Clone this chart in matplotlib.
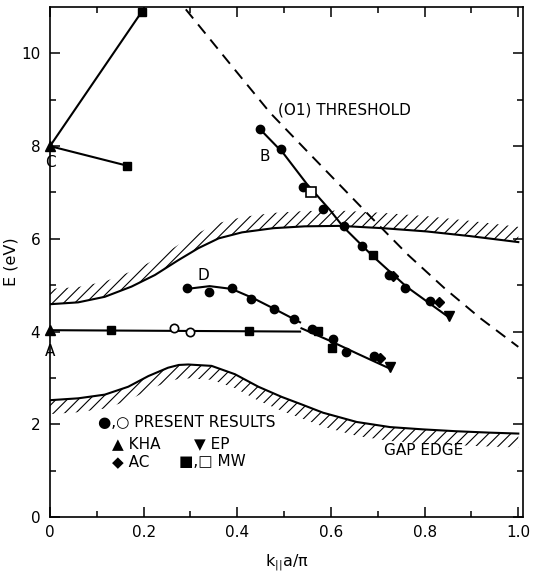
import matplotlib
matplotlib.use("Agg")
import matplotlib.pyplot as plt
import numpy as np

# ---- gap edge curves ----
upper_x = [0, 0.06, 0.117, 0.174, 0.224, 0.274, 0.317, 0.36, 0.41, 0.477, 0.544, 0.619, 0.711, 0.804, 0.896, 1.0]
upper_e = [4.59, 4.63, 4.75, 4.97, 5.22, 5.54, 5.80, 6.01, 6.14, 6.23, 6.27, 6.28, 6.23, 6.16, 6.06, 5.93]

lower_x = [0, 0.06, 0.117, 0.167, 0.21, 0.252, 0.275, 0.295, 0.345, 0.395, 0.445, 0.495, 0.537, 0.583, 0.655, 0.726, 0.797, 0.868, 0.939, 1.0]
lower_e = [2.52, 2.56, 2.64, 2.81, 3.04, 3.22, 3.28, 3.29, 3.26, 3.08, 2.81, 2.59, 2.43, 2.25, 2.05, 1.94, 1.89, 1.85, 1.82, 1.80]

# (01) threshold (dashed)
thr_x = [0.29, 0.38, 0.47, 0.55, 0.62, 0.69, 0.765, 0.843, 0.92, 1.0]
thr_e = [10.95, 9.83, 8.72, 7.88, 7.15, 6.42, 5.65, 4.93, 4.28, 3.67]

# ---- branch lines ----
a_x = [0, 0.534]
a_e = [4.03, 4.0]

b_x = [0.449, 0.498, 0.548, 0.598, 0.626, 0.69, 0.761, 0.85]
b_e = [8.36, 7.85, 7.19, 6.62, 6.26, 5.62, 4.97, 4.32]

c1_x = [0, 0.196]
c1_e = [8.0, 10.9]
c2_x = [0, 0.164]
c2_e = [8.0, 7.58]

d1_x = [0.292, 0.341, 0.388, 0.434, 0.477, 0.534]
d1_e = [4.92, 4.98, 4.92, 4.72, 4.50, 4.20]
d2_x = [0.537, 0.598, 0.655, 0.726]
d2_e = [4.07, 3.80, 3.53, 3.20]

# ---- data points ----
pr_x = [0.449, 0.493, 0.54, 0.584, 0.627, 0.666, 0.723, 0.759, 0.812,
        0.292, 0.34, 0.388, 0.429, 0.479, 0.521, 0.559, 0.604, 0.632, 0.691]
pr_e = [8.36, 7.93, 7.11, 6.65, 6.28, 5.85, 5.22, 4.95, 4.66,
        4.94, 4.86, 4.94, 4.71, 4.48, 4.28, 4.06, 3.85, 3.56, 3.47]
pr_open_x = [0.265, 0.299]
pr_open_e = [4.07, 4.0]

kha_x = [0, 0]
kha_e = [8.0, 4.03]
ep_x = [0.851, 0.725]
ep_e = [4.34, 3.24]
ac_x = [0.733, 0.83, 0.705]
ac_e = [5.2, 4.64, 3.44]
mw_x = [0.196, 0.164, 0.13, 0.424, 0.573, 0.602, 0.69]
mw_e = [10.9, 7.58, 4.03, 4.01, 4.01, 3.64, 5.65]
mw_open_x = [0.557]
mw_open_e = [7.0]

plt.rcParams['hatch.linewidth'] = 0.8

fig = plt.figure(figsize=(5.33, 5.73), dpi=100)
ax = fig.add_axes([0.0938, 0.0977, 0.8874, 0.890])

lw = 1.5
# hatched gap edges
ax.fill_between(upper_x, upper_e, np.array(upper_e) + 0.33, hatch='///',
                facecolor='none', edgecolor='k', linewidth=0)
ax.plot(upper_x, upper_e, color='k', lw=lw)
ax.fill_between(lower_x, np.array(lower_e) - 0.3, lower_e, hatch='///',
                facecolor='none', edgecolor='k', linewidth=0)
ax.plot(lower_x, lower_e, color='k', lw=lw)

# threshold
ax.plot(thr_x, thr_e, color='k', lw=1.4, dashes=(6, 4))

# branches
for xs, es in [(a_x, a_e), (b_x, b_e), (c1_x, c1_e), (c2_x, c2_e), (d1_x, d1_e), (d2_x, d2_e)]:
    ax.plot(xs, es, color='k', lw=lw)

# points
ms = 6
ax.plot(pr_x, pr_e, 'o', color='k', ms=ms)
ax.plot(pr_open_x, pr_open_e, 'o', mfc='white', mec='k', mew=1.2, ms=ms)
ax.plot(kha_x, kha_e, '^', color='k', ms=ms + 1, clip_on=False)
ax.plot(ep_x, ep_e, 'v', color='k', ms=ms + 1)
ax.plot(ac_x, ac_e, 'D', color='k', ms=ms - 0.5)
ax.plot(mw_x, mw_e, 's', color='k', ms=ms - 0.5)
ax.plot(mw_open_x, mw_open_e, 's', mfc='white', mec='k', mew=1.2, ms=ms + 1)

# labels
fs = 11
ax.text(0.0, 7.64, 'C', ha='center', va='center', fontsize=fs)
ax.text(0.0, 3.56, 'A', ha='center', va='center', fontsize=fs)
ax.text(0.459, 7.78, 'B', ha='center', va='center', fontsize=fs)
ax.text(0.327, 5.2, 'D', ha='center', va='center', fontsize=fs)
ax.text(0.487, 8.78, '(O1) THRESHOLD', ha='left', va='center', fontsize=fs)
ax.text(0.713, 1.43, 'GAP EDGE', ha='left', va='center', fontsize=fs)

# key
ax.text(0.103, 2.03, '●,○ PRESENT RESULTS', ha='left', va='center', fontsize=fs)
ax.text(0.132, 1.58, '▲ KHA', ha='left', va='center', fontsize=fs)
ax.text(0.308, 1.58, '▼ EP', ha='left', va='center', fontsize=fs)
ax.text(0.132, 1.2, '◆ AC', ha='left', va='center', fontsize=fs)
ax.text(0.275, 1.2, '■,□ MW', ha='left', va='center', fontsize=fs)

# axes
ax.set_xlim(0, 1.01)
ax.set_ylim(0, 11.0)
ax.set_xticks([0, 0.2, 0.4, 0.6, 0.8, 1.0])
ax.set_xticklabels(['0', '0.2', '0.4', '0.6', '0.8', '1.0'])
ax.set_xticks(np.arange(0.1, 1.0, 0.2), minor=True)
ax.set_yticks([0, 2, 4, 6, 8, 10])
ax.set_yticks([1, 3, 5, 7, 9], minor=True)
ax.tick_params(which='both', direction='in', top=True, right=True, labelsize=11, width=1.1)
ax.tick_params(which='major', length=7)
ax.tick_params(which='minor', length=4.5)
ax.tick_params(axis='y', pad=7)
ax.tick_params(axis='x', pad=6)
for s in ax.spines.values():
    s.set_linewidth(1.2)

ax.set_xlabel(r'k$_{||}$a/π', fontsize=11.5)
ax.set_ylabel('E (eV)', fontsize=11.5)
ax.xaxis.set_label_coords(0.5, -0.068)
ax.yaxis.set_label_coords(-0.066, 0.5)

fig.savefig('out.png', dpi=100)
